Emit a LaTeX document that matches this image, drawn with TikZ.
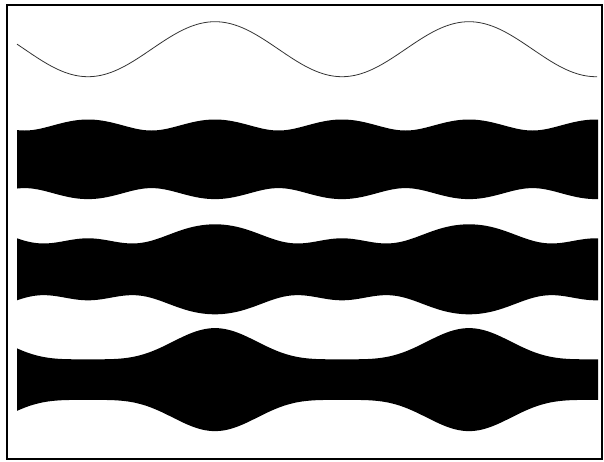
\documentclass[tikz,border=0pt]{standalone}
\begin{document}
\begin{tikzpicture}[x=1pt,y=-1pt,
  declare function={
    th(\t)=(\t-215)*1.417323;
    Ea(\t)=28.8*sqrt(1+0.91*cos(th(\t))*cos(th(\t)));
    Eb(\t)=33.31+8.06*cos(th(\t))+4.69*cos(2*th(\t))-1.06*cos(3*th(\t));
    Ec(\t)=20.3+31.2*((1+cos(th(\t)))/2)*((1+cos(th(\t)))/2);
  },
  frame/.style={draw=black,line width=2pt},
  wave/.style={draw=black!80,line width=0.8pt},
  band/.style={fill=black}]
\useasboundingbox (0,0) rectangle (604,461);
\draw[frame] (7,4.7) rectangle (602,459.3);
\draw[wave] plot[domain=17:597,samples=300,smooth] (\x,{49.2-27.5*cos(th(\x))});
\fill[band] plot[domain=17:598,samples=300] (\x,{159.3-Ea(\x)})
  -- plot[domain=598:17,samples=300] (\x,{159.3+Ea(\x)}) -- cycle;
\fill[band] plot[domain=17:598,samples=300] (\x,{269.3-Eb(\x)})
  -- plot[domain=598:17,samples=300] (\x,{269.3+Eb(\x)}) -- cycle;
\fill[band] plot[domain=17:598,samples=300] (\x,{379.6-Ec(\x)})
  -- plot[domain=598:17,samples=300] (\x,{379.6+Ec(\x)}) -- cycle;
\end{tikzpicture}
\end{document}
